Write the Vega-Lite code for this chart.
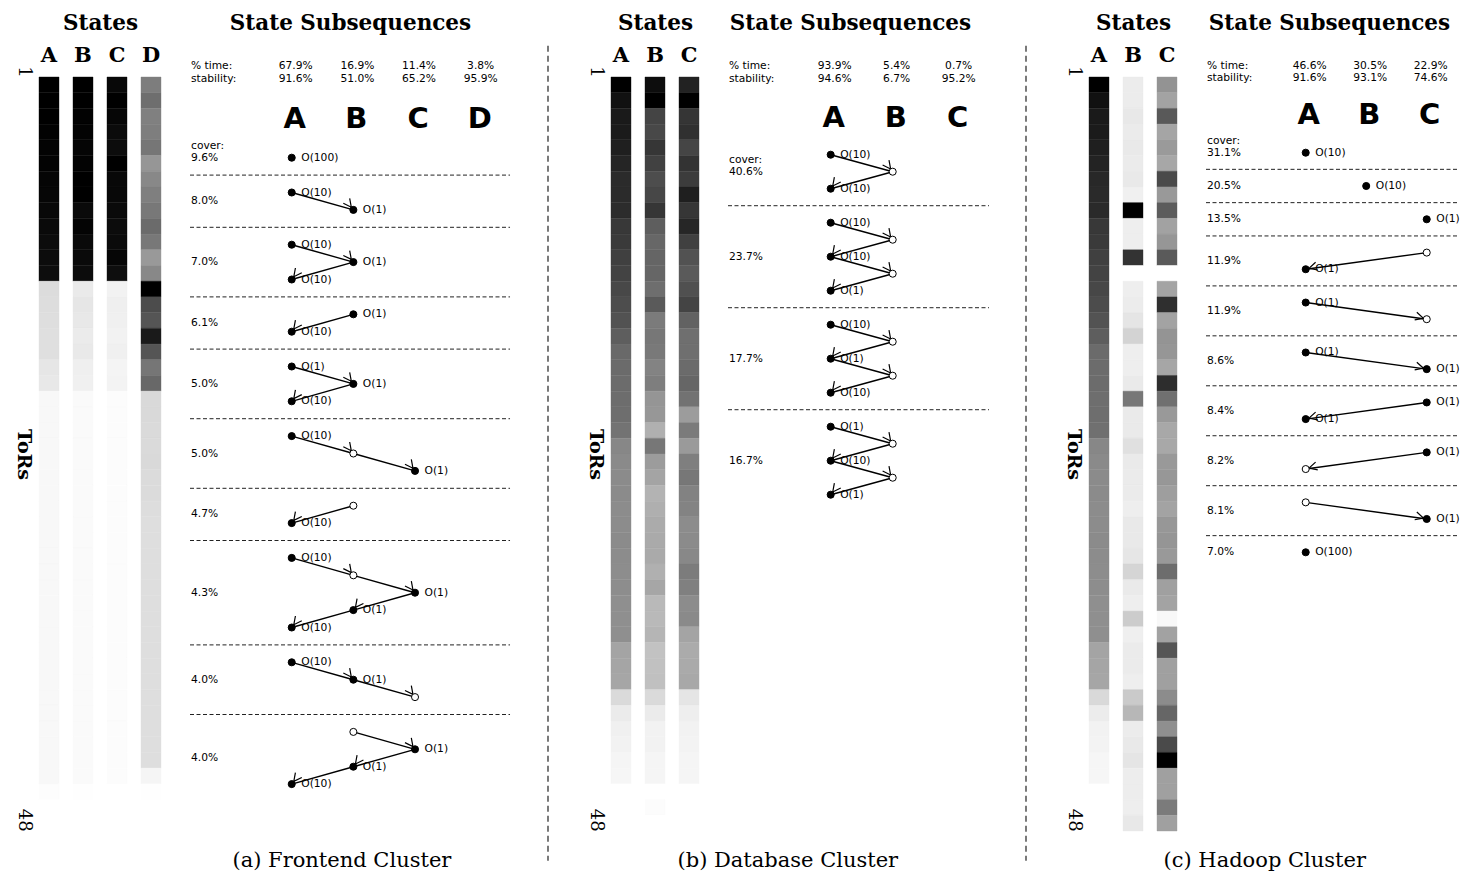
{
"$schema": "https://vega.github.io/schema/vega-lite/v6.json",
"background": "white",
"padding": {"left": 13, "top": 12, "right": 0, "bottom": 0},
"spacing": 36,
"config": {
  "view": {"stroke": null},
  "axisX": {"domain": false, "ticks": false, "grid": false, "labelAngle": 0, "labelFont": "DejaVu Serif", "labelFontWeight": "bold", "labelFontSize": 21, "labelColor": "black", "labelPadding": 16, "labelBaseline": "alphabetic", "titleFont": "DejaVu Serif", "titleFontWeight": "bold", "titleFontSize": 21.5, "titleColor": "black", "titleBaseline": "alphabetic", "titleY": -48},
  "axisY": {"domain": false, "ticks": false, "tickSize": 0, "labelAngle": 90, "labelFont": "DejaVu Serif", "labelFontSize": 18, "labelColor": "black", "labelBaseline": "middle", "labelAlign": "center", "labelPadding": 16, "titleFont": "DejaVu Serif", "titleFontWeight": "bold", "titleFontSize": 19, "titleColor": "black", "titleAngle": 90, "titleBaseline": "middle", "titleAlign": "center", "titleX": -15.5}
},
"datasets": {
"ha": [
{"t":1,"s":"A","g":0},{"t":2,"s":"A","g":0},{"t":3,"s":"A","g":0},{"t":4,"s":"A","g":2},{"t":5,"s":"A","g":3},{"t":6,"s":"A","g":3},{"t":7,"s":"A","g":5},{"t":8,"s":"A","g":6},{"t":9,"s":"A","g":8},{"t":10,"s":"A","g":10},{"t":11,"s":"A","g":12},{"t":12,"s":"A","g":12},{"t":13,"s":"A","g":13},{"t":14,"s":"A","g":220},{"t":15,"s":"A","g":221},{"t":16,"s":"A","g":222},{"t":17,"s":"A","g":223},{"t":18,"s":"A","g":223},{"t":19,"s":"A","g":230},{"t":20,"s":"A","g":232},{"t":21,"s":"A","g":248},{"t":22,"s":"A","g":248},{"t":23,"s":"A","g":248},{"t":24,"s":"A","g":248},{"t":25,"s":"A","g":248},{"t":26,"s":"A","g":248},{"t":27,"s":"A","g":248},{"t":28,"s":"A","g":248},{"t":29,"s":"A","g":248},{"t":30,"s":"A","g":248},{"t":31,"s":"A","g":248},{"t":32,"s":"A","g":248},{"t":33,"s":"A","g":248},{"t":34,"s":"A","g":248},{"t":35,"s":"A","g":248},{"t":36,"s":"A","g":248},{"t":37,"s":"A","g":248},{"t":38,"s":"A","g":248},{"t":39,"s":"A","g":248},{"t":40,"s":"A","g":248},{"t":41,"s":"A","g":248},{"t":42,"s":"A","g":248},{"t":43,"s":"A","g":248},{"t":44,"s":"A","g":248},{"t":45,"s":"A","g":248},{"t":46,"s":"A","g":253},{"t":47,"s":"A","g":255},{"t":48,"s":"A","g":255},
{"t":1,"s":"B","g":0},{"t":2,"s":"B","g":0},{"t":3,"s":"B","g":2},{"t":4,"s":"B","g":3},{"t":5,"s":"B","g":5},{"t":6,"s":"B","g":3},{"t":7,"s":"B","g":0},{"t":8,"s":"B","g":0},{"t":9,"s":"B","g":10},{"t":10,"s":"B","g":4},{"t":11,"s":"B","g":10},{"t":12,"s":"B","g":10},{"t":13,"s":"B","g":12},{"t":14,"s":"B","g":234},{"t":15,"s":"B","g":230},{"t":16,"s":"B","g":232},{"t":17,"s":"B","g":235},{"t":18,"s":"B","g":233},{"t":19,"s":"B","g":239},{"t":20,"s":"B","g":240},{"t":21,"s":"B","g":250},{"t":22,"s":"B","g":250},{"t":23,"s":"B","g":250},{"t":24,"s":"B","g":250},{"t":25,"s":"B","g":250},{"t":26,"s":"B","g":250},{"t":27,"s":"B","g":250},{"t":28,"s":"B","g":250},{"t":29,"s":"B","g":250},{"t":30,"s":"B","g":250},{"t":31,"s":"B","g":250},{"t":32,"s":"B","g":250},{"t":33,"s":"B","g":250},{"t":34,"s":"B","g":250},{"t":35,"s":"B","g":250},{"t":36,"s":"B","g":250},{"t":37,"s":"B","g":250},{"t":38,"s":"B","g":250},{"t":39,"s":"B","g":250},{"t":40,"s":"B","g":250},{"t":41,"s":"B","g":250},{"t":42,"s":"B","g":250},{"t":43,"s":"B","g":250},{"t":44,"s":"B","g":250},{"t":45,"s":"B","g":250},{"t":46,"s":"B","g":254},{"t":47,"s":"B","g":255},{"t":48,"s":"B","g":255},
{"t":1,"s":"C","g":8},{"t":2,"s":"C","g":0},{"t":3,"s":"C","g":6},{"t":4,"s":"C","g":11},{"t":5,"s":"C","g":12},{"t":6,"s":"C","g":0},{"t":7,"s":"C","g":8},{"t":8,"s":"C","g":8},{"t":9,"s":"C","g":10},{"t":10,"s":"C","g":12},{"t":11,"s":"C","g":11},{"t":12,"s":"C","g":6},{"t":13,"s":"C","g":14},{"t":14,"s":"C","g":242},{"t":15,"s":"C","g":239},{"t":16,"s":"C","g":240},{"t":17,"s":"C","g":242},{"t":18,"s":"C","g":240},{"t":19,"s":"C","g":244},{"t":20,"s":"C","g":243},{"t":21,"s":"C","g":252},{"t":22,"s":"C","g":252},{"t":23,"s":"C","g":252},{"t":24,"s":"C","g":252},{"t":25,"s":"C","g":252},{"t":26,"s":"C","g":252},{"t":27,"s":"C","g":252},{"t":28,"s":"C","g":252},{"t":29,"s":"C","g":252},{"t":30,"s":"C","g":252},{"t":31,"s":"C","g":252},{"t":32,"s":"C","g":252},{"t":33,"s":"C","g":252},{"t":34,"s":"C","g":252},{"t":35,"s":"C","g":252},{"t":36,"s":"C","g":252},{"t":37,"s":"C","g":252},{"t":38,"s":"C","g":252},{"t":39,"s":"C","g":252},{"t":40,"s":"C","g":252},{"t":41,"s":"C","g":252},{"t":42,"s":"C","g":252},{"t":43,"s":"C","g":252},{"t":44,"s":"C","g":252},{"t":45,"s":"C","g":252},{"t":46,"s":"C","g":255},{"t":47,"s":"C","g":255},{"t":48,"s":"C","g":255},
{"t":1,"s":"D","g":125},{"t":2,"s":"D","g":110},{"t":3,"s":"D","g":128},{"t":4,"s":"D","g":126},{"t":5,"s":"D","g":118},{"t":6,"s":"D","g":150},{"t":7,"s":"D","g":136},{"t":8,"s":"D","g":127},{"t":9,"s":"D","g":120},{"t":10,"s":"D","g":107},{"t":11,"s":"D","g":120},{"t":12,"s":"D","g":153},{"t":13,"s":"D","g":136},{"t":14,"s":"D","g":0},{"t":15,"s":"D","g":76},{"t":16,"s":"D","g":85},{"t":17,"s":"D","g":26},{"t":18,"s":"D","g":85},{"t":19,"s":"D","g":118},{"t":20,"s":"D","g":104},{"t":21,"s":"D","g":217},{"t":22,"s":"D","g":217},{"t":23,"s":"D","g":218},{"t":24,"s":"D","g":218},{"t":25,"s":"D","g":217},{"t":26,"s":"D","g":219},{"t":27,"s":"D","g":219},{"t":28,"s":"D","g":221},{"t":29,"s":"D","g":222},{"t":30,"s":"D","g":222},{"t":31,"s":"D","g":222},{"t":32,"s":"D","g":222},{"t":33,"s":"D","g":222},{"t":34,"s":"D","g":222},{"t":35,"s":"D","g":222},{"t":36,"s":"D","g":222},{"t":37,"s":"D","g":222},{"t":38,"s":"D","g":222},{"t":39,"s":"D","g":222},{"t":40,"s":"D","g":222},{"t":41,"s":"D","g":222},{"t":42,"s":"D","g":222},{"t":43,"s":"D","g":222},{"t":44,"s":"D","g":222},{"t":45,"s":"D","g":245},{"t":46,"s":"D","g":254},{"t":47,"s":"D","g":255},{"t":48,"s":"D","g":255}
],
"hb": [
{"t":1,"s":"A","g":0},{"t":2,"s":"A","g":17},{"t":3,"s":"A","g":26},{"t":4,"s":"A","g":27},{"t":5,"s":"A","g":31},{"t":6,"s":"A","g":37},{"t":7,"s":"A","g":43},{"t":8,"s":"A","g":43},{"t":9,"s":"A","g":44},{"t":10,"s":"A","g":56},{"t":11,"s":"A","g":58},{"t":12,"s":"A","g":64},{"t":13,"s":"A","g":67},{"t":14,"s":"A","g":72},{"t":15,"s":"A","g":77},{"t":16,"s":"A","g":82},{"t":17,"s":"A","g":94},{"t":18,"s":"A","g":105},{"t":19,"s":"A","g":107},{"t":20,"s":"A","g":108},{"t":21,"s":"A","g":109},{"t":22,"s":"A","g":110},{"t":23,"s":"A","g":115},{"t":24,"s":"A","g":135},{"t":25,"s":"A","g":138},{"t":26,"s":"A","g":139},{"t":27,"s":"A","g":139},{"t":28,"s":"A","g":140},{"t":29,"s":"A","g":140},{"t":30,"s":"A","g":139},{"t":31,"s":"A","g":140},{"t":32,"s":"A","g":141},{"t":33,"s":"A","g":141},{"t":34,"s":"A","g":143},{"t":35,"s":"A","g":143},{"t":36,"s":"A","g":143},{"t":37,"s":"A","g":164},{"t":38,"s":"A","g":165},{"t":39,"s":"A","g":166},{"t":40,"s":"A","g":218},{"t":41,"s":"A","g":235},{"t":42,"s":"A","g":240},{"t":43,"s":"A","g":242},{"t":44,"s":"A","g":245},{"t":45,"s":"A","g":246},{"t":46,"s":"A","g":255},{"t":47,"s":"A","g":255},{"t":48,"s":"A","g":255},
{"t":1,"s":"B","g":13},{"t":2,"s":"B","g":0},{"t":3,"s":"B","g":68},{"t":4,"s":"B","g":72},{"t":5,"s":"B","g":54},{"t":6,"s":"B","g":65},{"t":7,"s":"B","g":77},{"t":8,"s":"B","g":71},{"t":9,"s":"B","g":54},{"t":10,"s":"B","g":94},{"t":11,"s":"B","g":103},{"t":12,"s":"B","g":101},{"t":13,"s":"B","g":102},{"t":14,"s":"B","g":110},{"t":15,"s":"B","g":90},{"t":16,"s":"B","g":123},{"t":17,"s":"B","g":119},{"t":18,"s":"B","g":121},{"t":19,"s":"B","g":131},{"t":20,"s":"B","g":126},{"t":21,"s":"B","g":149},{"t":22,"s":"B","g":151},{"t":23,"s":"B","g":176},{"t":24,"s":"B","g":119},{"t":25,"s":"B","g":156},{"t":26,"s":"B","g":164},{"t":27,"s":"B","g":179},{"t":28,"s":"B","g":175},{"t":29,"s":"B","g":171},{"t":30,"s":"B","g":170},{"t":31,"s":"B","g":170},{"t":32,"s":"B","g":176},{"t":33,"s":"B","g":166},{"t":34,"s":"B","g":185},{"t":35,"s":"B","g":185},{"t":36,"s":"B","g":181},{"t":37,"s":"B","g":194},{"t":38,"s":"B","g":193},{"t":39,"s":"B","g":192},{"t":40,"s":"B","g":218},{"t":41,"s":"B","g":235},{"t":42,"s":"B","g":242},{"t":43,"s":"B","g":242},{"t":44,"s":"B","g":245},{"t":45,"s":"B","g":245},{"t":46,"s":"B","g":255},{"t":47,"s":"B","g":252},{"t":48,"s":"B","g":255},
{"t":1,"s":"C","g":34},{"t":2,"s":"C","g":0},{"t":3,"s":"C","g":53},{"t":4,"s":"C","g":48},{"t":5,"s":"C","g":69},{"t":6,"s":"C","g":51},{"t":7,"s":"C","g":60},{"t":8,"s":"C","g":31},{"t":9,"s":"C","g":54},{"t":10,"s":"C","g":38},{"t":11,"s":"C","g":64},{"t":12,"s":"C","g":82},{"t":13,"s":"C","g":90},{"t":14,"s":"C","g":80},{"t":15,"s":"C","g":68},{"t":16,"s":"C","g":98},{"t":17,"s":"C","g":111},{"t":18,"s":"C","g":111},{"t":19,"s":"C","g":107},{"t":20,"s":"C","g":102},{"t":21,"s":"C","g":114},{"t":22,"s":"C","g":156},{"t":23,"s":"C","g":123},{"t":24,"s":"C","g":154},{"t":25,"s":"C","g":127},{"t":26,"s":"C","g":119},{"t":27,"s":"C","g":130},{"t":28,"s":"C","g":131},{"t":29,"s":"C","g":140},{"t":30,"s":"C","g":139},{"t":31,"s":"C","g":136},{"t":32,"s":"C","g":124},{"t":33,"s":"C","g":128},{"t":34,"s":"C","g":140},{"t":35,"s":"C","g":138},{"t":36,"s":"C","g":164},{"t":37,"s":"C","g":171},{"t":38,"s":"C","g":170},{"t":39,"s":"C","g":168},{"t":40,"s":"C","g":229},{"t":41,"s":"C","g":238},{"t":42,"s":"C","g":242},{"t":43,"s":"C","g":243},{"t":44,"s":"C","g":245},{"t":45,"s":"C","g":245},{"t":46,"s":"C","g":255},{"t":47,"s":"C","g":255},{"t":48,"s":"C","g":255}
],
"hc": [
{"t":1,"s":"A","g":0},{"t":2,"s":"A","g":17},{"t":3,"s":"A","g":26},{"t":4,"s":"A","g":27},{"t":5,"s":"A","g":31},{"t":6,"s":"A","g":35},{"t":7,"s":"A","g":40},{"t":8,"s":"A","g":42},{"t":9,"s":"A","g":42},{"t":10,"s":"A","g":56},{"t":11,"s":"A","g":58},{"t":12,"s":"A","g":64},{"t":13,"s":"A","g":67},{"t":14,"s":"A","g":71},{"t":15,"s":"A","g":76},{"t":16,"s":"A","g":83},{"t":17,"s":"A","g":94},{"t":18,"s":"A","g":107},{"t":19,"s":"A","g":108},{"t":20,"s":"A","g":108},{"t":21,"s":"A","g":110},{"t":22,"s":"A","g":110},{"t":23,"s":"A","g":112},{"t":24,"s":"A","g":135},{"t":25,"s":"A","g":138},{"t":26,"s":"A","g":139},{"t":27,"s":"A","g":139},{"t":28,"s":"A","g":140},{"t":29,"s":"A","g":140},{"t":30,"s":"A","g":139},{"t":31,"s":"A","g":140},{"t":32,"s":"A","g":141},{"t":33,"s":"A","g":141},{"t":34,"s":"A","g":143},{"t":35,"s":"A","g":143},{"t":36,"s":"A","g":143},{"t":37,"s":"A","g":164},{"t":38,"s":"A","g":165},{"t":39,"s":"A","g":166},{"t":40,"s":"A","g":217},{"t":41,"s":"A","g":236},{"t":42,"s":"A","g":242},{"t":43,"s":"A","g":243},{"t":44,"s":"A","g":246},{"t":45,"s":"A","g":246},{"t":46,"s":"A","g":255},{"t":47,"s":"A","g":255},{"t":48,"s":"A","g":255},
{"t":1,"s":"B","g":236},{"t":2,"s":"B","g":236},{"t":3,"s":"B","g":232},{"t":4,"s":"B","g":235},{"t":5,"s":"B","g":233},{"t":6,"s":"B","g":235},{"t":7,"s":"B","g":233},{"t":8,"s":"B","g":240},{"t":9,"s":"B","g":0},{"t":10,"s":"B","g":238},{"t":11,"s":"B","g":238},{"t":12,"s":"B","g":51},{"t":13,"s":"B","g":255},{"t":14,"s":"B","g":238},{"t":15,"s":"B","g":236},{"t":16,"s":"B","g":229},{"t":17,"s":"B","g":211},{"t":18,"s":"B","g":238},{"t":19,"s":"B","g":238},{"t":20,"s":"B","g":234},{"t":21,"s":"B","g":119},{"t":22,"s":"B","g":234},{"t":23,"s":"B","g":234},{"t":24,"s":"B","g":224},{"t":25,"s":"B","g":234},{"t":26,"s":"B","g":235},{"t":27,"s":"B","g":235},{"t":28,"s":"B","g":238},{"t":29,"s":"B","g":233},{"t":30,"s":"B","g":233},{"t":31,"s":"B","g":230},{"t":32,"s":"B","g":213},{"t":33,"s":"B","g":234},{"t":34,"s":"B","g":238},{"t":35,"s":"B","g":204},{"t":36,"s":"B","g":239},{"t":37,"s":"B","g":235},{"t":38,"s":"B","g":235},{"t":39,"s":"B","g":238},{"t":40,"s":"B","g":202},{"t":41,"s":"B","g":183},{"t":42,"s":"B","g":236},{"t":43,"s":"B","g":233},{"t":44,"s":"B","g":229},{"t":45,"s":"B","g":237},{"t":46,"s":"B","g":237},{"t":47,"s":"B","g":238},{"t":48,"s":"B","g":232},
{"t":1,"s":"C","g":147},{"t":2,"s":"C","g":163},{"t":3,"s":"C","g":89},{"t":4,"s":"C","g":165},{"t":5,"s":"C","g":154},{"t":6,"s":"C","g":167},{"t":7,"s":"C","g":74},{"t":8,"s":"C","g":153},{"t":9,"s":"C","g":92},{"t":10,"s":"C","g":162},{"t":11,"s":"C","g":150},{"t":12,"s":"C","g":90},{"t":13,"s":"C","g":255},{"t":14,"s":"C","g":164},{"t":15,"s":"C","g":47},{"t":16,"s":"C","g":163},{"t":17,"s":"C","g":148},{"t":18,"s":"C","g":150},{"t":19,"s":"C","g":166},{"t":20,"s":"C","g":45},{"t":21,"s":"C","g":112},{"t":22,"s":"C","g":153},{"t":23,"s":"C","g":168},{"t":24,"s":"C","g":168},{"t":25,"s":"C","g":153},{"t":26,"s":"C","g":151},{"t":27,"s":"C","g":158},{"t":28,"s":"C","g":163},{"t":29,"s":"C","g":151},{"t":30,"s":"C","g":149},{"t":31,"s":"C","g":153},{"t":32,"s":"C","g":109},{"t":33,"s":"C","g":160},{"t":34,"s":"C","g":163},{"t":35,"s":"C","g":248},{"t":36,"s":"C","g":162},{"t":37,"s":"C","g":85},{"t":38,"s":"C","g":160},{"t":39,"s":"C","g":160},{"t":40,"s":"C","g":140},{"t":41,"s":"C","g":102},{"t":42,"s":"C","g":143},{"t":43,"s":"C","g":74},{"t":44,"s":"C","g":0},{"t":45,"s":"C","g":160},{"t":46,"s":"C","g":160},{"t":47,"s":"C","g":123},{"t":48,"s":"C","g":160}
],
"sa": [
{"k":"lt","x":-1.65,"y":-5.259,"txt":"% time:"},{"k":"lt","x":-1.65,"y":-4.54,"txt":"stability:"},
{"k":"hv","x":0,"y":-5.259,"txt":"67.9%"},{"k":"hv","x":1,"y":-5.259,"txt":"16.9%"},{"k":"hv","x":2,"y":-5.259,"txt":"11.4%"},{"k":"hv","x":3,"y":-5.259,"txt":"3.8%"},
{"k":"hv","x":0,"y":-4.54,"txt":"91.6%"},{"k":"hv","x":1,"y":-4.54,"txt":"51.0%"},{"k":"hv","x":2,"y":-4.54,"txt":"65.2%"},{"k":"hv","x":3,"y":-4.54,"txt":"95.9%"},
{"k":"bl","x":0,"y":-2.241,"txt":"A"},{"k":"bl","x":1,"y":-2.241,"txt":"B"},{"k":"bl","x":2,"y":-2.241,"txt":"C"},{"k":"bl","x":3,"y":-2.241,"txt":"D"},
{"k":"lt","x":-1.65,"y":-0.69,"txt":"cover:"},{"k":"lt","x":-1.65,"y":0,"txt":"9.6%"},{"k":"lt","x":-1.65,"y":2.5,"txt":"8.0%"},{"k":"lt","x":-1.65,"y":6,"txt":"7.0%"},{"k":"lt","x":-1.65,"y":9.5,"txt":"6.1%"},{"k":"lt","x":-1.65,"y":13,"txt":"5.0%"},{"k":"lt","x":-1.65,"y":17,"txt":"5.0%"},{"k":"lt","x":-1.65,"y":20.5,"txt":"4.7%"},{"k":"lt","x":-1.65,"y":25,"txt":"4.3%"},{"k":"lt","x":-1.65,"y":30,"txt":"4.0%"},{"k":"lt","x":-1.65,"y":34.5,"txt":"4.0%"},
{"k":"ln","x":-1.65,"x2":3.541,"y":1},{"k":"ln","x":-1.65,"x2":3.541,"y":4},{"k":"ln","x":-1.65,"x2":3.541,"y":8},{"k":"ln","x":-1.65,"x2":3.541,"y":11},{"k":"ln","x":-1.65,"x2":3.541,"y":15},{"k":"ln","x":-1.65,"x2":3.541,"y":19},{"k":"ln","x":-1.65,"x2":3.541,"y":22},{"k":"ln","x":-1.65,"x2":3.541,"y":28},{"k":"ln","x":-1.65,"x2":3.541,"y":32},
{"k":"sp","x":4.157,"y":-6.437,"y2":40.4},
{"k":"pt","x":0,"y":0,"lab":"O(100)","o":"c"},{"k":"pt","x":0,"y":2,"lab":"O(10)","o":"c"},{"k":"pt","x":1,"y":3,"lab":"O(1)","o":"c"},
{"k":"pt","x":0,"y":5,"lab":"O(10)","o":"c"},{"k":"pt","x":1,"y":6,"lab":"O(1)","o":"c"},{"k":"pt","x":0,"y":7,"lab":"O(10)","o":"c"},
{"k":"pt","x":1,"y":9,"lab":"O(1)","o":"c"},{"k":"pt","x":0,"y":10,"lab":"O(10)","o":"c"},
{"k":"pt","x":0,"y":12,"lab":"O(1)","o":"c"},{"k":"pt","x":1,"y":13,"lab":"O(1)","o":"c"},{"k":"pt","x":0,"y":14,"lab":"O(10)","o":"c"},
{"k":"pt","x":0,"y":16,"lab":"O(10)","o":"c"},{"k":"pt","x":1,"y":17,"lab":"","o":"o"},{"k":"pt","x":2,"y":18,"lab":"O(1)","o":"c"},
{"k":"pt","x":1,"y":20,"lab":"","o":"o"},{"k":"pt","x":0,"y":21,"lab":"O(10)","o":"c"},
{"k":"pt","x":0,"y":23,"lab":"O(10)","o":"c"},{"k":"pt","x":1,"y":24,"lab":"","o":"o"},{"k":"pt","x":2,"y":25,"lab":"O(1)","o":"c"},{"k":"pt","x":1,"y":26,"lab":"O(1)","o":"c"},{"k":"pt","x":0,"y":27,"lab":"O(10)","o":"c"},
{"k":"pt","x":0,"y":29,"lab":"O(10)","o":"c"},{"k":"pt","x":1,"y":30,"lab":"O(1)","o":"c"},{"k":"pt","x":2,"y":31,"lab":"","o":"o"},
{"k":"pt","x":1,"y":33,"lab":"","o":"o"},{"k":"pt","x":2,"y":34,"lab":"O(1)","o":"c"},{"k":"pt","x":1,"y":35,"lab":"O(1)","o":"c"},{"k":"pt","x":0,"y":36,"lab":"O(10)","o":"c"},
{"k":"ar","x":0,"y":2,"x2":1,"y2":3,"d":1},
{"k":"ar","x":0,"y":5,"x2":1,"y2":6,"d":1},{"k":"ar","x":1,"y":6,"x2":0,"y2":7,"d":-1},
{"k":"ar","x":1,"y":9,"x2":0,"y2":10,"d":-1},
{"k":"ar","x":0,"y":12,"x2":1,"y2":13,"d":1},{"k":"ar","x":1,"y":13,"x2":0,"y2":14,"d":-1},
{"k":"ar","x":0,"y":16,"x2":1,"y2":17,"d":1},{"k":"ar","x":1,"y":17,"x2":2,"y2":18,"d":1},
{"k":"ar","x":1,"y":20,"x2":0,"y2":21,"d":-1},
{"k":"ar","x":0,"y":23,"x2":1,"y2":24,"d":1},{"k":"ar","x":1,"y":24,"x2":2,"y2":25,"d":1},{"k":"ar","x":2,"y":25,"x2":1,"y2":26,"d":-1},{"k":"ar","x":1,"y":26,"x2":0,"y2":27,"d":-1},
{"k":"ar","x":0,"y":29,"x2":1,"y2":30,"d":1},{"k":"ar","x":1,"y":30,"x2":2,"y2":31,"d":1},
{"k":"ar","x":1,"y":33,"x2":2,"y2":34,"d":1},{"k":"ar","x":2,"y":34,"x2":1,"y2":35,"d":-1},{"k":"ar","x":1,"y":35,"x2":0,"y2":36,"d":-1}
],
"sb": [
{"k":"lt","x":-1.656,"y":-5.206,"txt":"% time:"},{"k":"lt","x":-1.656,"y":-4.471,"txt":"stability:"},
{"k":"hv","x":0,"y":-5.206,"txt":"93.9%"},{"k":"hv","x":1,"y":-5.206,"txt":"5.4%"},{"k":"hv","x":2,"y":-5.206,"txt":"0.7%"},
{"k":"hv","x":0,"y":-4.471,"txt":"94.6%"},{"k":"hv","x":1,"y":-4.471,"txt":"6.7%"},{"k":"hv","x":2,"y":-4.471,"txt":"95.2%"},
{"k":"bl","x":0,"y":-2.176,"txt":"A"},{"k":"bl","x":1,"y":-2.176,"txt":"B"},{"k":"bl","x":2,"y":-2.176,"txt":"C"},
{"k":"lt","x":-1.656,"y":0.294,"txt":"cover:"},{"k":"lt","x":-1.656,"y":1,"txt":"40.6%"},{"k":"lt","x":-1.656,"y":6,"txt":"23.7%"},{"k":"lt","x":-1.656,"y":12,"txt":"17.7%"},{"k":"lt","x":-1.656,"y":18,"txt":"16.7%"},
{"k":"ln","x":-1.656,"x2":2.553,"y":3},{"k":"ln","x":-1.656,"x2":2.553,"y":9},{"k":"ln","x":-1.656,"x2":2.553,"y":15},
{"k":"sp","x":3.15,"y":-6.41,"y2":41.53},
{"k":"pt","x":0,"y":0,"lab":"O(10)","o":"c"},{"k":"pt","x":1,"y":1,"lab":"","o":"o"},{"k":"pt","x":0,"y":2,"lab":"O(10)","o":"c"},
{"k":"pt","x":0,"y":4,"lab":"O(10)","o":"c"},{"k":"pt","x":1,"y":5,"lab":"","o":"o"},{"k":"pt","x":0,"y":6,"lab":"O(10)","o":"c"},{"k":"pt","x":1,"y":7,"lab":"","o":"o"},{"k":"pt","x":0,"y":8,"lab":"O(1)","o":"c"},
{"k":"pt","x":0,"y":10,"lab":"O(10)","o":"c"},{"k":"pt","x":1,"y":11,"lab":"","o":"o"},{"k":"pt","x":0,"y":12,"lab":"O(1)","o":"c"},{"k":"pt","x":1,"y":13,"lab":"","o":"o"},{"k":"pt","x":0,"y":14,"lab":"O(10)","o":"c"},
{"k":"pt","x":0,"y":16,"lab":"O(1)","o":"c"},{"k":"pt","x":1,"y":17,"lab":"","o":"o"},{"k":"pt","x":0,"y":18,"lab":"O(10)","o":"c"},{"k":"pt","x":1,"y":19,"lab":"","o":"o"},{"k":"pt","x":0,"y":20,"lab":"O(1)","o":"c"},
{"k":"ar","x":0,"y":0,"x2":1,"y2":1,"d":1},{"k":"ar","x":1,"y":1,"x2":0,"y2":2,"d":-1},
{"k":"ar","x":0,"y":4,"x2":1,"y2":5,"d":1},{"k":"ar","x":1,"y":5,"x2":0,"y2":6,"d":-1},{"k":"ar","x":0,"y":6,"x2":1,"y2":7,"d":1},{"k":"ar","x":1,"y":7,"x2":0,"y2":8,"d":-1},
{"k":"ar","x":0,"y":10,"x2":1,"y2":11,"d":1},{"k":"ar","x":1,"y":11,"x2":0,"y2":12,"d":-1},{"k":"ar","x":0,"y":12,"x2":1,"y2":13,"d":1},{"k":"ar","x":1,"y":13,"x2":0,"y2":14,"d":-1},
{"k":"ar","x":0,"y":16,"x2":1,"y2":17,"d":1},{"k":"ar","x":1,"y":17,"x2":0,"y2":18,"d":-1},{"k":"ar","x":0,"y":18,"x2":1,"y2":19,"d":1},{"k":"ar","x":1,"y":19,"x2":0,"y2":20,"d":-1}
],
"sc": [
{"k":"lt","x":-1.648,"y":-5.195,"txt":"% time:"},{"k":"lt","x":-1.648,"y":-4.505,"txt":"stability:"},
{"k":"hv","x":0,"y":-5.195,"txt":"46.6%"},{"k":"hv","x":1,"y":-5.195,"txt":"30.5%"},{"k":"hv","x":2,"y":-5.195,"txt":"22.9%"},
{"k":"hv","x":0,"y":-4.505,"txt":"91.6%"},{"k":"hv","x":1,"y":-4.505,"txt":"93.1%"},{"k":"hv","x":2,"y":-4.505,"txt":"74.6%"},
{"k":"bl","x":0,"y":-2.282,"txt":"A"},{"k":"bl","x":1,"y":-2.282,"txt":"B"},{"k":"bl","x":2,"y":-2.282,"txt":"C"},
{"k":"lt","x":-1.648,"y":-0.72,"txt":"cover:"},{"k":"lt","x":-1.648,"y":0,"txt":"31.1%"},{"k":"lt","x":-1.648,"y":2,"txt":"20.5%"},{"k":"lt","x":-1.648,"y":4,"txt":"13.5%"},{"k":"lt","x":-1.648,"y":6.5,"txt":"11.9%"},{"k":"lt","x":-1.648,"y":9.5,"txt":"11.9%"},{"k":"lt","x":-1.648,"y":12.5,"txt":"8.6%"},{"k":"lt","x":-1.648,"y":15.5,"txt":"8.4%"},{"k":"lt","x":-1.648,"y":18.5,"txt":"8.2%"},{"k":"lt","x":-1.648,"y":21.5,"txt":"8.1%"},{"k":"lt","x":-1.648,"y":24,"txt":"7.0%"},
{"k":"ln","x":-1.648,"x2":2.534,"y":1},{"k":"ln","x":-1.648,"x2":2.534,"y":3},{"k":"ln","x":-1.648,"x2":2.534,"y":5},{"k":"ln","x":-1.648,"x2":2.534,"y":8},{"k":"ln","x":-1.648,"x2":2.534,"y":11},{"k":"ln","x":-1.648,"x2":2.534,"y":14},{"k":"ln","x":-1.648,"x2":2.534,"y":17},{"k":"ln","x":-1.648,"x2":2.534,"y":20},{"k":"ln","x":-1.648,"x2":2.534,"y":23},
{"k":"pt","x":0,"y":0,"lab":"O(10)","o":"c"},{"k":"pt","x":1,"y":2,"lab":"O(10)","o":"c"},{"k":"pt","x":2,"y":4,"lab":"O(1)","o":"c"},
{"k":"pt","x":2,"y":6,"lab":"","o":"o"},{"k":"pt","x":0,"y":7,"lab":"O(1)","o":"c"},
{"k":"pt","x":0,"y":9,"lab":"O(1)","o":"c"},{"k":"pt","x":2,"y":10,"lab":"","o":"o"},
{"k":"pt","x":0,"y":12,"lab":"O(1)","o":"c"},{"k":"pt","x":2,"y":13,"lab":"O(1)","o":"c"},
{"k":"pt","x":2,"y":15,"lab":"O(1)","o":"c"},{"k":"pt","x":0,"y":16,"lab":"O(1)","o":"c"},
{"k":"pt","x":2,"y":18,"lab":"O(1)","o":"c"},{"k":"pt","x":0,"y":19,"lab":"","o":"o"},
{"k":"pt","x":0,"y":21,"lab":"","o":"o"},{"k":"pt","x":2,"y":22,"lab":"O(1)","o":"c"},
{"k":"pt","x":0,"y":24,"lab":"O(100)","o":"c"},
{"k":"ar","x":2,"y":6,"x2":0,"y2":7,"d":-2},{"k":"ar","x":0,"y":9,"x2":2,"y2":10,"d":2},{"k":"ar","x":0,"y":12,"x2":2,"y2":13,"d":2},{"k":"ar","x":2,"y":15,"x2":0,"y2":16,"d":-2},{"k":"ar","x":2,"y":18,"x2":0,"y2":19,"d":-2},{"k":"ar","x":0,"y":21,"x2":2,"y2":22,"d":2}
]
},
"hconcat": [
{
 "spacing": 27,
 "title": {"text": "(a) Frontend Cluster", "orient": "bottom", "anchor": "start", "dx": 219, "offset": 6, "baseline": "alphabetic", "font": "DejaVu Serif", "fontSize": 21, "fontWeight": "normal", "color": "black"},
 "hconcat": [
  {
   "width": 122, "height": 754,
   "data": {"name": "ha"},
   "mark": {"type": "rect", "strokeWidth": 0.4},
   "encoding": {
    "x": {"field": "s", "type": "nominal", "scale": {"paddingInner": 0.412, "paddingOuter": 0}, "axis": {"orient": "top", "title": "States"}},
    "y": {"field": "t", "type": "ordinal", "scale": {"paddingInner": 0, "paddingOuter": 0}, "axis": {"values": [1, 48], "title": "ToRs", "labelOffset": {"condition": {"test": "datum.value === 1", "value": -13}, "value": -3}}},
    "fill": {"field": "g", "type": "quantitative", "scale": {"domain": [0, 255], "range": ["#000000", "#ffffff"], "interpolate": "rgb"}, "legend": null},
    "stroke": {"field": "g", "type": "quantitative", "scale": {"domain": [0, 255], "range": ["#000000", "#ffffff"], "interpolate": "rgb"}, "legend": null}
   }
  },
  {
   "width": 358, "height": 754,
   "data": {"name": "sa"},
   "encoding": {
    "x": {"field": "x", "type": "quantitative", "scale": {"domain": [-1.65, 4.157], "nice": false, "zero": false}, "axis": {"orient": "top", "labels": false, "ticks": false, "domain": false, "grid": false, "title": "State Subsequences", "titleX": 160, "titleAlign": "center"}},
    "y": {"field": "y", "type": "quantitative", "scale": {"domain": [-4.638, 38.695], "nice": false, "zero": false, "reverse": true}, "axis": null}
   },
   "layer": [
    {"transform": [{"filter": "datum.k == 'ln'"}], "mark": {"type": "rule", "strokeDash": [4, 2.5], "strokeWidth": 1, "color": "#222222"}, "encoding": {"x2": {"field": "x2"}}},
    {"transform": [{"filter": "datum.k == 'sp'"}], "mark": {"type": "rule", "strokeDash": [6, 4], "strokeWidth": 1.2, "color": "#222222"}, "encoding": {"y2": {"field": "y2"}}},
    {"transform": [{"filter": "datum.k == 'ar'"}], "mark": {"type": "rule", "strokeWidth": 1.4, "color": "black"}, "encoding": {"x2": {"field": "x2"}, "y2": {"field": "y2"}}},
    {"transform": [{"filter": "datum.k == 'ar'"}], "mark": {"type": "point", "shape": "M -1 -0.35 L -0.3 0 L -1 0.35", "filled": false, "stroke": "black", "strokeWidth": 1.2, "size": 520, "opacity": 1},
     "encoding": {
      "x": {"field": "x2", "type": "quantitative", "scale": {"domain": [-1.65, 4.157], "nice": false, "zero": false}, "axis": {"orient": "top", "labels": false, "ticks": false, "domain": false, "grid": false, "title": "State Subsequences", "titleX": 160, "titleAlign": "center"}},
      "y": {"field": "y2", "type": "quantitative", "scale": {"domain": [-4.638, 38.695], "nice": false, "zero": false, "reverse": true}, "axis": null},
      "angle": {"field": "d", "type": "quantitative", "scale": {"domain": [-1, 1], "range": [164.24, 15.76]}}
     }},
    {"transform": [{"filter": "datum.k == 'pt'"}], "mark": {"type": "point", "shape": "circle", "filled": true, "stroke": "black", "strokeWidth": 1, "size": 50, "opacity": 1}, "encoding": {"fill": {"field": "o", "type": "nominal", "scale": {"domain": ["c", "o"], "range": ["black", "white"]}, "legend": null}}},
    {"transform": [{"filter": "datum.k == 'pt' && datum.lab != ''"}], "mark": {"type": "text", "align": "left", "baseline": "middle", "dx": 9.5, "font": "DejaVu Sans", "fontSize": 10.7, "color": "black"}, "encoding": {"text": {"field": "lab"}}},
    {"transform": [{"filter": "datum.k == 'lt'"}], "mark": {"type": "text", "align": "left", "baseline": "middle", "dx": 1, "font": "DejaVu Sans", "fontSize": 10.7, "color": "black"}, "encoding": {"text": {"field": "txt"}}},
    {"transform": [{"filter": "datum.k == 'hv'"}], "mark": {"type": "text", "align": "center", "baseline": "middle", "dx": 4, "font": "DejaVu Sans", "fontSize": 10.7, "color": "black"}, "encoding": {"text": {"field": "txt"}}},
    {"transform": [{"filter": "datum.k == 'bl'"}], "mark": {"type": "text", "align": "center", "baseline": "middle", "dx": 3, "font": "DejaVu Sans", "fontWeight": "bold", "fontSize": 29, "color": "black"}, "encoding": {"text": {"field": "txt"}}}
   ]
  }
 ]
},
{
 "spacing": 27,
 "title": {"text": "(b) Database Cluster", "orient": "bottom", "anchor": "start", "dx": 92, "offset": 6, "baseline": "alphabetic", "font": "DejaVu Serif", "fontSize": 21, "fontWeight": "normal", "color": "black"},
 "hconcat": [
  {
   "width": 88, "height": 754,
   "data": {"name": "hb"},
   "mark": {"type": "rect", "strokeWidth": 0.4},
   "encoding": {
    "x": {"field": "s", "type": "nominal", "scale": {"paddingInner": 0.412, "paddingOuter": 0}, "axis": {"orient": "top", "title": "States"}},
    "y": {"field": "t", "type": "ordinal", "scale": {"paddingInner": 0, "paddingOuter": 0}, "axis": {"values": [1, 48], "title": "ToRs", "labelOffset": {"condition": {"test": "datum.value === 1", "value": -13}, "value": -3}}},
    "fill": {"field": "g", "type": "quantitative", "scale": {"domain": [0, 255], "range": ["#000000", "#ffffff"], "interpolate": "rgb"}, "legend": null},
    "stroke": {"field": "g", "type": "quantitative", "scale": {"domain": [0, 255], "range": ["#000000", "#ffffff"], "interpolate": "rgb"}, "legend": null}
   }
  },
  {
   "width": 298, "height": 754,
   "data": {"name": "sb"},
   "encoding": {
    "x": {"field": "x", "type": "quantitative", "scale": {"domain": [-1.656, 3.15], "nice": false, "zero": false}, "axis": {"orient": "top", "labels": false, "ticks": false, "domain": false, "grid": false, "title": "State Subsequences", "titleX": 122, "titleAlign": "center"}},
    "y": {"field": "y", "type": "quantitative", "scale": {"domain": [-4.571, 39.782], "nice": false, "zero": false, "reverse": true}, "axis": null}
   },
   "layer": [
    {"transform": [{"filter": "datum.k == 'ln'"}], "mark": {"type": "rule", "strokeDash": [4, 2.5], "strokeWidth": 1, "color": "#222222"}, "encoding": {"x2": {"field": "x2"}}},
    {"transform": [{"filter": "datum.k == 'sp'"}], "mark": {"type": "rule", "strokeDash": [6, 4], "strokeWidth": 1.2, "color": "#222222"}, "encoding": {"y2": {"field": "y2"}}},
    {"transform": [{"filter": "datum.k == 'ar'"}], "mark": {"type": "rule", "strokeWidth": 1.4, "color": "black"}, "encoding": {"x2": {"field": "x2"}, "y2": {"field": "y2"}}},
    {"transform": [{"filter": "datum.k == 'ar'"}], "mark": {"type": "point", "shape": "M -1 -0.35 L -0.3 0 L -1 0.35", "filled": false, "stroke": "black", "strokeWidth": 1.2, "size": 520, "opacity": 1},
     "encoding": {
      "x": {"field": "x2", "type": "quantitative", "scale": {"domain": [-1.656, 3.15], "nice": false, "zero": false}, "axis": {"orient": "top", "labels": false, "ticks": false, "domain": false, "grid": false, "title": "State Subsequences", "titleX": 122, "titleAlign": "center"}},
      "y": {"field": "y2", "type": "quantitative", "scale": {"domain": [-4.571, 39.782], "nice": false, "zero": false, "reverse": true}, "axis": null},
      "angle": {"field": "d", "type": "quantitative", "scale": {"domain": [-1, 1], "range": [164.67, 15.33]}}
     }},
    {"transform": [{"filter": "datum.k == 'pt'"}], "mark": {"type": "point", "shape": "circle", "filled": true, "stroke": "black", "strokeWidth": 1, "size": 50, "opacity": 1}, "encoding": {"fill": {"field": "o", "type": "nominal", "scale": {"domain": ["c", "o"], "range": ["black", "white"]}, "legend": null}}},
    {"transform": [{"filter": "datum.k == 'pt' && datum.lab != ''"}], "mark": {"type": "text", "align": "left", "baseline": "middle", "dx": 9.5, "font": "DejaVu Sans", "fontSize": 10.7, "color": "black"}, "encoding": {"text": {"field": "lab"}}},
    {"transform": [{"filter": "datum.k == 'lt'"}], "mark": {"type": "text", "align": "left", "baseline": "middle", "dx": 1, "font": "DejaVu Sans", "fontSize": 10.7, "color": "black"}, "encoding": {"text": {"field": "txt"}}},
    {"transform": [{"filter": "datum.k == 'hv'"}], "mark": {"type": "text", "align": "center", "baseline": "middle", "dx": 4, "font": "DejaVu Sans", "fontSize": 10.7, "color": "black"}, "encoding": {"text": {"field": "txt"}}},
    {"transform": [{"filter": "datum.k == 'bl'"}], "mark": {"type": "text", "align": "center", "baseline": "middle", "dx": 3, "font": "DejaVu Sans", "fontWeight": "bold", "fontSize": 29, "color": "black"}, "encoding": {"text": {"field": "txt"}}}
   ]
  }
 ]
},
{
 "spacing": 27,
 "title": {"text": "(c) Hadoop Cluster", "orient": "bottom", "anchor": "start", "dx": 100, "offset": 36, "baseline": "alphabetic", "font": "DejaVu Serif", "fontSize": 21, "fontWeight": "normal", "color": "black"},
 "hconcat": [
  {
   "width": 88, "height": 754,
   "data": {"name": "hc"},
   "mark": {"type": "rect", "strokeWidth": 0.4},
   "encoding": {
    "x": {"field": "s", "type": "nominal", "scale": {"paddingInner": 0.412, "paddingOuter": 0}, "axis": {"orient": "top", "title": "States"}},
    "y": {"field": "t", "type": "ordinal", "scale": {"paddingInner": 0, "paddingOuter": 0}, "axis": {"values": [1, 48], "title": "ToRs", "labelOffset": {"condition": {"test": "datum.value === 1", "value": -13}, "value": -3}}},
    "fill": {"field": "g", "type": "quantitative", "scale": {"domain": [0, 255], "range": ["#000000", "#ffffff"], "interpolate": "rgb"}, "legend": null},
    "stroke": {"field": "g", "type": "quantitative", "scale": {"domain": [0, 255], "range": ["#000000", "#ffffff"], "interpolate": "rgb"}, "legend": null}
   }
  },
  {
   "width": 254, "height": 754,
   "data": {"name": "sc"},
   "encoding": {
    "x": {"field": "x", "type": "quantitative", "scale": {"domain": [-1.648, 2.55], "nice": false, "zero": false}, "axis": {"orient": "top", "labels": false, "ticks": false, "domain": false, "grid": false, "title": "State Subsequences", "titleX": 123, "titleAlign": "center"}},
    "y": {"field": "y", "type": "quantitative", "scale": {"domain": [-4.546, 40.739], "nice": false, "zero": false, "reverse": true}, "axis": null}
   },
   "layer": [
    {"transform": [{"filter": "datum.k == 'ln'"}], "mark": {"type": "rule", "strokeDash": [4, 2.5], "strokeWidth": 1, "color": "#222222"}, "encoding": {"x2": {"field": "x2"}}},
    {"transform": [{"filter": "datum.k == 'ar'"}], "mark": {"type": "rule", "strokeWidth": 1.4, "color": "black"}, "encoding": {"x2": {"field": "x2"}, "y2": {"field": "y2"}}},
    {"transform": [{"filter": "datum.k == 'ar'"}], "mark": {"type": "point", "shape": "M -1 -0.35 L -0.3 0 L -1 0.35", "filled": false, "stroke": "black", "strokeWidth": 1.2, "size": 520, "opacity": 1},
     "encoding": {
      "x": {"field": "x2", "type": "quantitative", "scale": {"domain": [-1.648, 2.55], "nice": false, "zero": false}, "axis": {"orient": "top", "labels": false, "ticks": false, "domain": false, "grid": false, "title": "State Subsequences", "titleX": 123, "titleAlign": "center"}},
      "y": {"field": "y2", "type": "quantitative", "scale": {"domain": [-4.546, 40.739], "nice": false, "zero": false, "reverse": true}, "axis": null},
      "angle": {"field": "d", "type": "quantitative", "scale": {"domain": [-2, 2], "range": [172.17, 7.83]}}
     }},
    {"transform": [{"filter": "datum.k == 'pt'"}], "mark": {"type": "point", "shape": "circle", "filled": true, "stroke": "black", "strokeWidth": 1, "size": 50, "opacity": 1}, "encoding": {"fill": {"field": "o", "type": "nominal", "scale": {"domain": ["c", "o"], "range": ["black", "white"]}, "legend": null}}},
    {"transform": [{"filter": "datum.k == 'pt' && datum.lab != ''"}], "mark": {"type": "text", "align": "left", "baseline": "middle", "dx": 9.5, "font": "DejaVu Sans", "fontSize": 10.7, "color": "black"}, "encoding": {"text": {"field": "lab"}}},
    {"transform": [{"filter": "datum.k == 'lt'"}], "mark": {"type": "text", "align": "left", "baseline": "middle", "dx": 1, "font": "DejaVu Sans", "fontSize": 10.7, "color": "black"}, "encoding": {"text": {"field": "txt"}}},
    {"transform": [{"filter": "datum.k == 'hv'"}], "mark": {"type": "text", "align": "center", "baseline": "middle", "dx": 4, "font": "DejaVu Sans", "fontSize": 10.7, "color": "black"}, "encoding": {"text": {"field": "txt"}}},
    {"transform": [{"filter": "datum.k == 'bl'"}], "mark": {"type": "text", "align": "center", "baseline": "middle", "dx": 3, "font": "DejaVu Sans", "fontWeight": "bold", "fontSize": 29, "color": "black"}, "encoding": {"text": {"field": "txt"}}}
   ]
  }
 ]
}
]
}
